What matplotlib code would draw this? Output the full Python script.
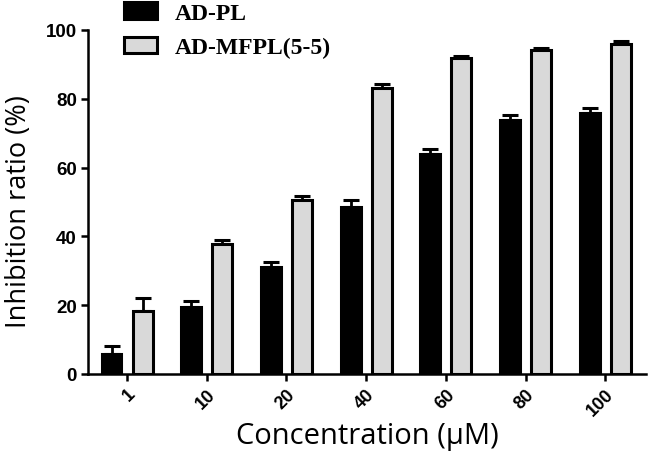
import numpy as np
import matplotlib
matplotlib.use("Agg")
import matplotlib.pyplot as plt
from matplotlib.patches import Patch

# data
concentrations = ["1", "10", "20", "40", "60", "80", "100"]
ad_pl = [5.8, 19.5, 31.0, 48.5, 64.0, 73.8, 75.8]
ad_pl_err = [2.3, 1.7, 1.5, 2.2, 1.4, 1.5, 1.5]
ad_mfpl = [18.2, 37.8, 50.6, 83.0, 91.9, 94.1, 96.0]
ad_mfpl_err = [4.0, 1.2, 1.0, 1.2, 0.6, 0.6, 0.9]
series_names = ["AD-PL", "AD-MFPL(5-5)"]

fig = plt.figure(figsize=(6.49, 4.60), dpi=100)
ax = fig.add_axes([88/649, 1-375/460, (646-88)/649, (375-31)/460])

x = np.arange(len(concentrations))
width = 0.25
off = 0.195
lw = 2.2

ax.bar(x - off, ad_pl, width, color="black", edgecolor="black", linewidth=lw, zorder=2)
ax.bar(x + off, ad_mfpl, width, color="#d9d9d9", edgecolor="black", linewidth=lw, zorder=2)
ax.errorbar(x - off, ad_pl, yerr=[np.zeros(len(ad_pl)), ad_pl_err], fmt="none",
            ecolor="black", elinewidth=2, capsize=6, capthick=2.2, zorder=1)
ax.errorbar(x + off, ad_mfpl, yerr=[np.zeros(len(ad_mfpl)), ad_mfpl_err], fmt="none",
            ecolor="black", elinewidth=2, capsize=6, capthick=2.2, zorder=1)

ax.set_xlim(-0.49, len(concentrations) - 1 + 0.51)
ax.set_ylim(0, 100)
ax.set_yticks([0, 20, 40, 60, 80, 100])
ax.set_yticklabels(["0", "20", "40", "60", "80", "100"], fontsize=13.5,
                   fontweight="bold", family="Liberation Sans")
ax.set_xticks(x)
ax.set_xticklabels(concentrations, rotation=45, ha="right", rotation_mode="anchor",
                   fontsize=13, fontweight="bold", family="Liberation Sans")

for s in ["top", "right"]:
    ax.spines[s].set_visible(False)
for s in ["left", "bottom"]:
    ax.spines[s].set_linewidth(1.8)
ax.tick_params(direction="out", length=5, width=1.8, pad=3)

ax.set_ylabel("Inhibition ratio (%)", fontsize=19.5, family="Open Sans")
ax.yaxis.set_label_coords(-(88 - 33) / 558, 0.474)
ax.set_xlabel("Concentration (\u03bcM)", fontsize=21, family="Open Sans", labelpad=2)

handles = [Patch(facecolor="black", edgecolor="black", linewidth=2.2),
           Patch(facecolor="#d9d9d9", edgecolor="black", linewidth=2.2)]
fig.legend(handles, series_names, loc="upper left", bbox_to_anchor=(124/649, 1 - 3/460),
           frameon=False, borderpad=0, borderaxespad=0, handlelength=1.4, handleheight=0.7,
           handletextpad=0.75, labelspacing=0.55,
           prop={"family": "Liberation Serif", "weight": "bold", "size": 17})

fig.savefig("out.png", dpi=100)
